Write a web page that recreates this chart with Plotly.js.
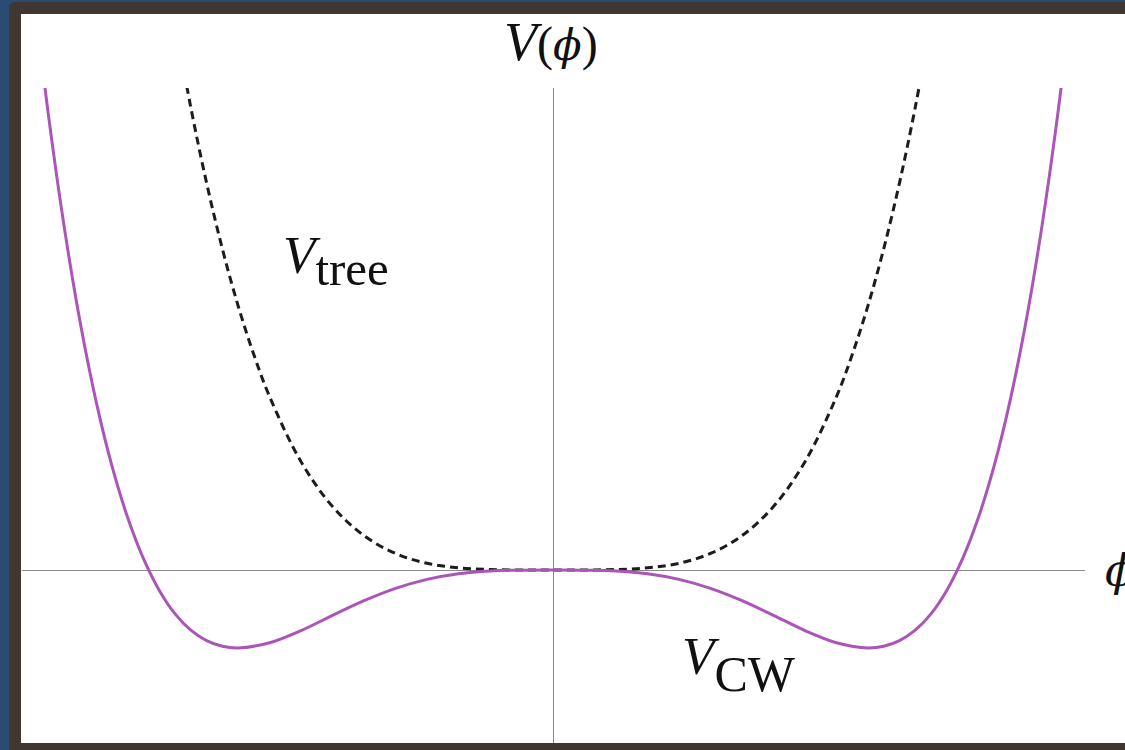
<!DOCTYPE html>
<html>
<head>
<meta charset="utf-8">
<script src="https://cdn.plot.ly/plotly-3.0.1.min.js"></script>
<style>
  html, body { margin: 0; padding: 0; width: 1125px; height: 750px; overflow: hidden; background: #2b4b72; }
  #frame { position: absolute; left: 9px; top: 2px; width: 1116px; height: 748px; background: #403732; border-top-left-radius: 6px; }
  #canvas { position: absolute; left: 21px; top: 14px; width: 1104px; height: 729px; background: #ffffff; }
  #chart { position: absolute; left: 0; top: 0; width: 1125px; height: 750px; }
</style>
</head>
<body>
<div id="frame"></div>
<div id="canvas"></div>
<div id="chart"></div>
<script>
// Coleman–Weinberg one-loop potential (field in units of its vev)
const phiCW = [-1.65, -1.6, -1.55, -1.5, -1.45, -1.4, -1.35, -1.3, -1.25, -1.2, -1.15, -1.1, -1.05, -1.0,
               -0.9, -0.8, -0.7, -0.6, -0.5, -0.4, -0.3, -0.2, -0.1, 0,
               0.1, 0.2, 0.3, 0.4, 0.5, 0.6, 0.7, 0.8, 0.9,
               1.0, 1.05, 1.1, 1.15, 1.2, 1.25, 1.3, 1.35, 1.4, 1.45, 1.5, 1.55, 1.6, 1.65];
const vCW = [3.718, 2.884, 2.174, 1.574, 1.075, 0.664, 0.333, 0.071, -0.131, -0.281, -0.386, -0.453, -0.489, -0.500,
             -0.466, -0.388, -0.291, -0.197, -0.118, -0.060, -0.024, -0.006, -0.001, 0,
             -0.001, -0.006, -0.024, -0.060, -0.118, -0.197, -0.291, -0.388, -0.466,
             -0.500, -0.489, -0.453, -0.386, -0.281, -0.131, 0.071, 0.333, 0.664, 1.075, 1.574, 2.174, 2.884, 3.718];

// Tree-level quartic potential
const phiTree = [-1.2, -1.15, -1.1, -1.05, -1.0, -0.95, -0.9, -0.8, -0.7, -0.6, -0.5, -0.4, -0.3, -0.2, -0.1, 0,
                 0.1, 0.2, 0.3, 0.4, 0.5, 0.6, 0.7, 0.8, 0.9, 0.95, 1.0, 1.05, 1.1, 1.15, 1.2];
const vTree = [3.515, 2.965, 2.482, 2.060, 1.695, 1.381, 1.112, 0.694, 0.407, 0.220, 0.106, 0.043, 0.014, 0.003, 0.000, 0,
               0.000, 0.003, 0.014, 0.043, 0.106, 0.220, 0.407, 0.694, 1.112, 1.381, 1.695, 2.060, 2.482, 2.965, 3.515];

const serif = 'Liberation Serif, DejaVu Serif, serif';
const phiGlyph = (px) => '<span style="font-family:DejaVu Serif;font-size:' + px + 'px"><i>ϕ</i></span>';

const traces = [
  {
    x: phiTree, y: vTree, type: 'scatter', mode: 'lines', name: 'V_tree',
    line: { color: '#1c1c1c', width: 3, dash: '8px,5px', shape: 'spline', smoothing: 1 },
    hoverinfo: 'skip'
  },
  {
    x: phiCW, y: vCW, type: 'scatter', mode: 'lines', name: 'V_CW',
    line: { color: '#ab55b8', width: 3, shape: 'spline', smoothing: 1 },
    hoverinfo: 'skip'
  }
];

function label(text, x, y, size, xanchor) {
  return {
    text: text, xref: 'paper', yref: 'paper', x: x, y: y,
    xanchor: xanchor, yanchor: 'middle', showarrow: false,
    font: { family: serif, size: size, color: '#111111' }
  };
}

const layout = {
  width: 1125, height: 750,
  margin: { l: 22, r: 40, t: 88, b: 7, pad: 0 },
  paper_bgcolor: 'rgba(0,0,0,0)', plot_bgcolor: '#ffffff',
  showlegend: false,
  xaxis: {
    range: [-1.686, 1.689], showgrid: false, showticklabels: false, ticks: '',
    zeroline: true, zerolinecolor: '#8a8a8a', zerolinewidth: 1, showline: false, fixedrange: true
  },
  yaxis: {
    range: [-1.109, 3.090], showgrid: false, showticklabels: false, ticks: '',
    zeroline: true, zerolinecolor: '#8a8a8a', zerolinewidth: 1, showline: false, fixedrange: true
  },
  annotations: [
    label('<span style="font-size:54px"><i>V</i></span>(' + phiGlyph(42) + ')', 0.4977, 1.070, 48, 'center'),
    label(phiGlyph(44), 1.0169, 0.2641, 44, 'left'),
    label('<span style="font-size:53px"><i>V</i></span><sub><span style="font-size:49px">tree</span></sub>',
          0.2436, 0.7359, 57, 'left'),
    label('<span style="font-size:53px"><i>V</i></span><sub><span style="font-size:50px">CW</span></sub>',
          0.6190, 0.1191, 80, 'left')
  ]
};

Plotly.newPlot('chart', traces, layout, { staticPlot: true, displayModeBar: false });
</script>
</body>
</html>
